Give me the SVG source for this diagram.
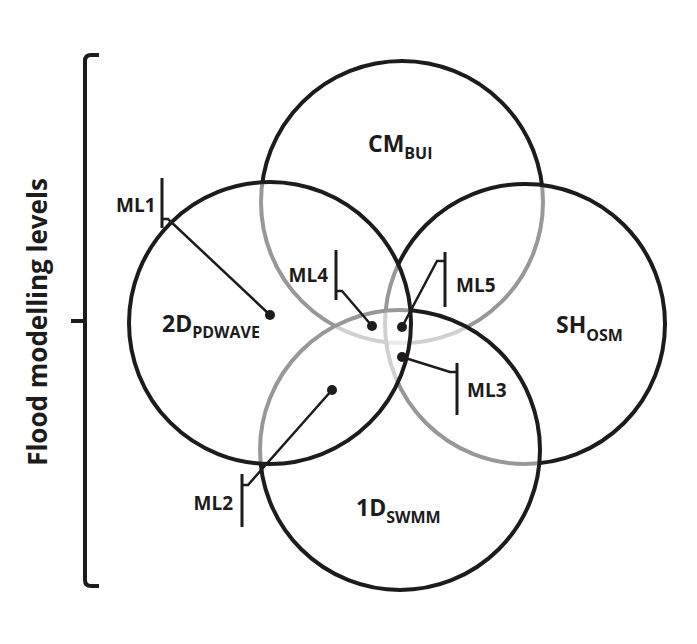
<svg xmlns="http://www.w3.org/2000/svg" width="697" height="644" viewBox="0 0 697 644">
<style>
.c{fill:#fff;fill-opacity:0.55;stroke:#1e1b1c;stroke-width:4}
.t{font-family:"Open Sans","Liberation Sans",sans-serif;font-weight:bold;fill:#1e1b1c}
.big{font-size:23px}
.sub{font-size:16px}
.ml{font-size:19px}
.ld{fill:none;stroke:#1e1b1c;stroke-width:2.5;stroke-linejoin:miter}
.bar{fill:none;stroke:#1e1b1c;stroke-width:3}
.dot{fill:#1e1b1c}
.br{fill:none;stroke:#1e1b1c;stroke-width:4;stroke-linecap:butt}
</style>
<rect width="697" height="644" fill="#fff"/>
<g id="bracket">
<path class="br" d="M99,55 H91 Q85,55 85,61 V580 Q85,586 91,586 H99"/>
<path class="br" d="M71,321 H85" stroke-linecap="round"/>
<text class="t" font-size="26" transform="translate(47,322) rotate(-90)" text-anchor="middle">Flood modelling levels</text>
</g>
<g id="CM">
<circle class="c" cx="402" cy="202" r="141"/>
<text class="t big" x="368" y="152">CM<tspan class="sub" dy="7">BUI</tspan></text>
</g>
<g id="SH">
<circle class="c" cx="525" cy="324" r="140"/>
<text class="t big" x="556" y="333">SH<tspan class="sub" dy="8">OSM</tspan></text>
</g>
<g id="1D">
<circle class="c" cx="400" cy="450" r="140"/>
<text class="t big" x="356" y="516">1D<tspan class="sub" dy="7">SWMM</tspan></text>
</g>
<g id="2D">
<circle class="c" cx="270" cy="323" r="141"/>
<text class="t big" x="162" y="332">2D<tspan class="sub" dy="6">PDWAVE</tspan></text>
</g>
<g id="connectors">
<path class="ld" d="M162,219 H168 L270,315"/>
<path class="ld" d="M242,485 H248 L332,390"/>
<path class="ld" d="M402,357 L450,372 H457"/>
<path class="ld" d="M336,291 H342 L372,326"/>
<path class="ld" d="M445,261 H437 L402,327"/>
</g>
<g id="ML1">
<line class="bar" x1="162" y1="178" x2="162" y2="228"/>
<circle class="dot" cx="270" cy="315" r="5"/>
<text class="t ml" x="116" y="212">ML1</text>
</g>
<g id="ML2">
<line class="bar" x1="242" y1="474" x2="242" y2="527"/>
<circle class="dot" cx="332" cy="390" r="5"/>
<text class="t ml" x="233" y="510" text-anchor="end">ML2</text>
</g>
<g id="ML3">
<line class="bar" x1="457" y1="363" x2="457" y2="415"/>
<circle class="dot" cx="402" cy="357" r="5"/>
<text class="t ml" x="467" y="397">ML3</text>
</g>
<g id="ML4">
<line class="bar" x1="336" y1="250" x2="336" y2="300"/>
<circle class="dot" cx="372" cy="326" r="5"/>
<text class="t ml" x="328" y="282" text-anchor="end">ML4</text>
</g>
<g id="ML5">
<line class="bar" x1="445" y1="252" x2="445" y2="307"/>
<circle class="dot" cx="402" cy="327" r="5"/>
<text class="t ml" x="456" y="292">ML5</text>
</g>
</svg>
